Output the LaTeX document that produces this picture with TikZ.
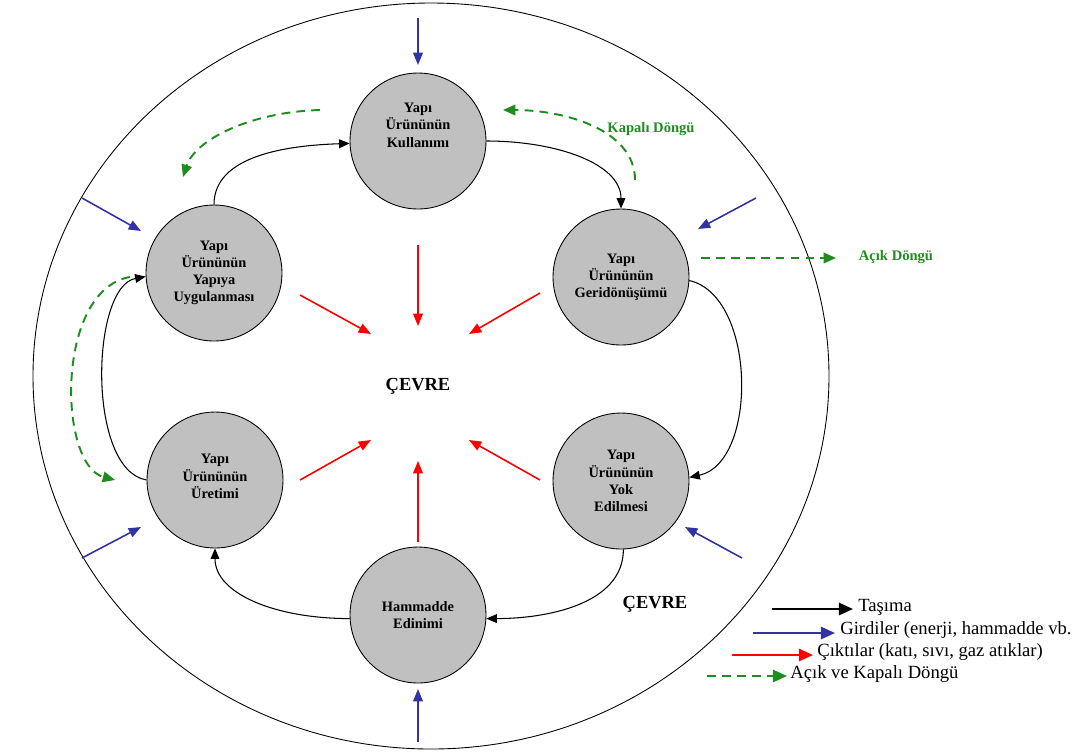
\documentclass[tikz,border=0pt]{standalone}
\usepackage{fontspec}
\setmainfont{Liberation Serif}
\usetikzlibrary{arrows.meta}
\definecolor{girdi}{RGB}{50,50,160}
\definecolor{dongu}{RGB}{30,140,30}
\definecolor{dugum}{RGB}{192,192,192}
\begin{document}
\begin{tikzpicture}[x=0.02cm,y=-0.02cm,
  proc/.style={circle,draw=black,line width=0.5pt,fill=dugum,minimum size=2.72cm,inner sep=0pt,
    align=center,font=\bfseries\fontsize{8.2}{9.8}\selectfont},
  proctext/.style={align=center,inner sep=0pt,font=\bfseries\fontsize{8.2}{9.8}\selectfont},
  tasima/.style={draw=black,line width=0.6pt,-{Triangle[length=6pt,width=5pt]}},
  girdi/.style={draw=girdi,line width=0.9pt,-{Triangle[length=7pt,width=5.5pt]}},
  cikti/.style={draw=red,line width=0.9pt,-{Triangle[length=7pt,width=5.5pt]}},
  donguok/.style={draw=dongu,line width=1.1pt,dash pattern=on 5pt off 3.5pt,-{Triangle[length=7pt,width=6pt]}},
  etiket/.style={font=\fontsize{10.6}{12}\selectfont,anchor=west,inner sep=0pt},
  cevre/.style={font=\bfseries\fontsize{10.5}{12}\selectfont},
  dongulbl/.style={text=dongu,font=\bfseries\fontsize{8.3}{10}\selectfont}]
\useasboundingbox (0,0) rectangle (1085,755);

% environment boundary
\draw[line width=0.5pt] (431,376) ellipse [x radius=398, y radius=373];

% life-cycle stages
\node[proc,label={[proctext,yshift=9pt]center:Yapı\\Ürününün\\Kullanımı}] (K) at (418,141) {};
\node[proc] (Y) at (214,273) {Yapı\\Ürününün\\Yapıya\\Uygulanması};
\node[proc] (G) at (621,277) {Yapı\\Ürününün\\Geridönüşümü};
\node[proc,label={[proctext,yshift=2pt]center:Yapı\\Ürününün\\Üretimi}] (U) at (215,480) {};
\node[proc] (E) at (621,481) {Yapı\\Ürününün\\Yok\\Edilmesi};
\node[proc] (H) at (418,615) {Hammadde\\Edinimi};

\node[cevre] (C1) at (418,386) {ÇEVRE};
\node[cevre] (C2) at (655,604) {ÇEVRE};

% transport between stages
\draw[tasima] (Y.90) .. controls +(0,-50) and +(-60,2) .. (K.182);
\draw[tasima] (K.0) .. controls +(70,0) and +(0,-45) .. (G.90);
\draw[tasima] (G.-3) .. controls +(67,15) and +(69,-15) .. (E.3);
\draw[tasima] (E.-88) .. controls +(0,55) and +(60,0) .. (H.-3);
\draw[tasima] (H.183) .. controls +(-75,0) and +(0,45) .. (U.-90);
\draw[tasima] (U.180) .. controls +(-60,-10) and +(-55,10) .. (Y.183);

% open and closed loops
\coordinate (k1s) at (320,110);
\coordinate (k1e) at (183,177);
\draw[donguok] (k1s) .. controls (250,112) and (195,140) .. (k1e);
\coordinate (k2s) at (635,180);
\coordinate (k2e) at (503,110);
\draw[donguok] (k2s) .. controls (635,130) and (565,110) .. (k2e);
\coordinate (k3s) at (130,277);
\coordinate (k3e) at (115,480);
\draw[donguok] (k3s) .. controls (55,290) and (58,465) .. (k3e);
\coordinate (a1s) at (701,258);
\coordinate (a1e) at (836,258);
\draw[donguok] (a1s) -- (a1e);
\node[dongulbl] (KD) at (651,129) {Kapalı Döngü};
\node[dongulbl] (AD) at (896,257) {Açık Döngü};

% inputs
\coordinate (g1s) at (418,18);  \coordinate (g1e) at (418,65);
\coordinate (g2s) at (82,198);  \coordinate (g2e) at (141,231);
\coordinate (g3s) at (756,198); \coordinate (g3e) at (698,229);
\coordinate (g4s) at (82,558);  \coordinate (g4e) at (141,527);
\coordinate (g5s) at (742,558); \coordinate (g5e) at (685,527);
\coordinate (g6s) at (418,742); \coordinate (g6e) at (418,689);
\draw[girdi] (g1s) -- (g1e);
\draw[girdi] (g2s) -- (g2e);
\draw[girdi] (g3s) -- (g3e);
\draw[girdi] (g4s) -- (g4e);
\draw[girdi] (g5s) -- (g5e);
\draw[girdi] (g6s) -- (g6e);

% outputs to the environment
\coordinate (c1s) at (418,245); \coordinate (c1e) at (418,326);
\coordinate (c2s) at (300,295); \coordinate (c2e) at (371,334);
\coordinate (c3s) at (540,293); \coordinate (c3e) at (469,334);
\coordinate (c4s) at (300,480); \coordinate (c4e) at (371,440);
\coordinate (c5s) at (540,480); \coordinate (c5e) at (469,440);
\coordinate (c6s) at (418,542); \coordinate (c6e) at (418,461);
\draw[cikti] (c1s) -- (c1e);
\draw[cikti] (c2s) -- (c2e);
\draw[cikti] (c3s) -- (c3e);
\draw[cikti] (c4s) -- (c4e);
\draw[cikti] (c5s) -- (c5e);
\draw[cikti] (c6s) -- (c6e);

% legend
\coordinate (l1s) at (772,609); \coordinate (l1e) at (853,609);
\draw[tasima,line width=1.1pt,-{Triangle[length=8pt,width=7pt]}] (l1s) -- (l1e);
\node[etiket] (L1) at (858,607) {Taşıma};
\coordinate (l2s) at (753,633); \coordinate (l2e) at (835,633);
\draw[girdi,line width=1.1pt,-{Triangle[length=8pt,width=7pt]}] (l2s) -- (l2e);
\node[etiket] (L2) at (840,630) {Girdiler (enerji, hammadde vb.};
\coordinate (l3s) at (732,655); \coordinate (l3e) at (813,655);
\draw[cikti,line width=1.1pt,-{Triangle[length=8pt,width=7pt]}] (l3s) -- (l3e);
\node[etiket] (L3) at (817,652) {Çıktılar (katı, sıvı, gaz atıklar)};
\coordinate (l4s) at (707,676); \coordinate (l4e) at (787,676);
\draw[donguok,-{Triangle[length=8pt,width=7pt]}] (l4s) -- (l4e);
\node[etiket] (L4) at (790,674) {Açık ve Kapalı Döngü};
\end{tikzpicture}
\end{document}
